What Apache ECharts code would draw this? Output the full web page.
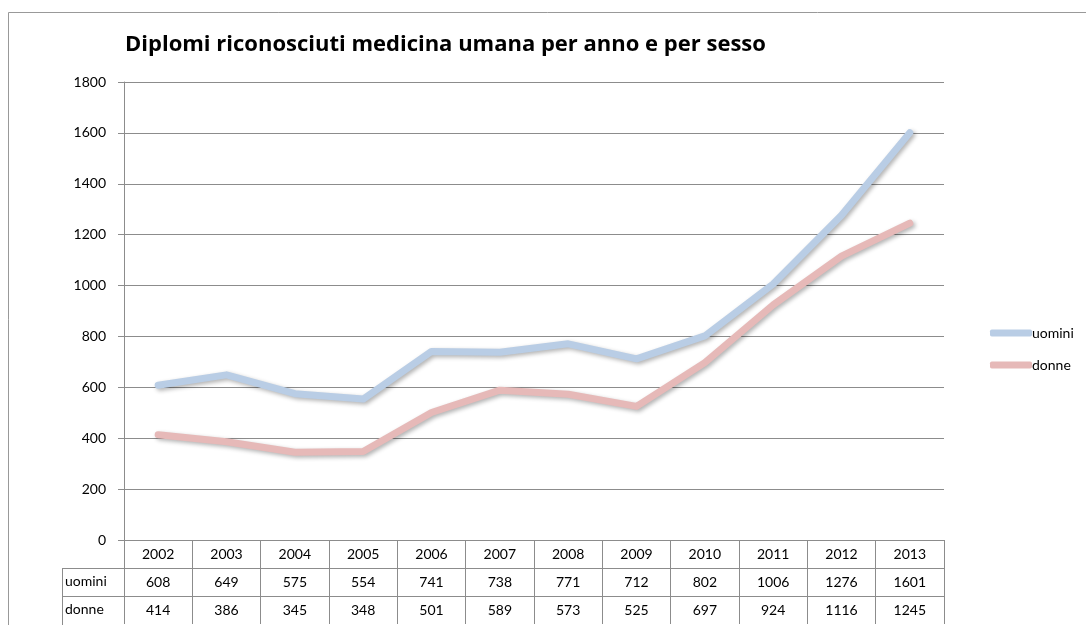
<!DOCTYPE html>
<html>
<head>
<meta charset="utf-8">
<script src="https://cdn.jsdelivr.net/npm/echarts@6/dist/echarts.min.js"></script>
<style>
  html, body { margin: 0; padding: 0; background: #fff; }
  #chart { width: 1086px; height: 625px; }
</style>
</head>
<body>
<div id="chart"></div>
<script>
// dati
var anni = ['2002', '2003', '2004', '2005', '2006', '2007', '2008', '2009', '2010', '2011', '2012', '2013'];
var uomini = [608, 649, 575, 554, 741, 738, 771, 712, 802, 1006, 1276, 1601];
var donne = [414, 386, 345, 348, 501, 589, 573, 525, 697, 924, 1116, 1245];
var nomiSerie = ['uomini', 'donne'];
var coloriSerie = ['#B9CDE5', '#E6B9B8'];

var font = 'Lato, "Open Sans", sans-serif';
var grigio = '#8c8c8c';
var rigaH = 28;

function tableAxis(data, offset) {
    return {
        type: 'category',
        gridIndex: 0,
        position: 'bottom',
        offset: offset,
        data: data,
        boundaryGap: true,
        axisLine: { show: true, lineStyle: { color: grigio, width: 1 } },
        axisTick: { show: true, interval: 0, length: rigaH, lineStyle: { color: grigio } },
        axisLabel: { interval: 0, margin: 7, fontSize: 14, color: '#000', fontFamily: font },
        splitLine: { show: false }
    };
}

function drawChart() {
    var dom = document.getElementById('chart');
    var myChart = echarts.init(dom, null, { renderer: 'canvas' });

    var option = {
        animation: false,
        backgroundColor: '#fff',
        title: {
            text: 'Diplomi riconosciuti medicina umana per anno e per sesso',
            left: 120,
            top: 29,
            textStyle: { fontSize: 22, fontWeight: 'bold', color: '#000', fontFamily: '"Open Sans", sans-serif' }
        },
        legend: {
            data: nomiSerie,
            orient: 'vertical',
            left: 985,
            top: 321,
            icon: 'roundRect',
            itemWidth: 42,
            itemHeight: 7,
            itemGap: 18,
            textStyle: { fontSize: 14, color: '#000', fontFamily: font, padding: [0, 0, 0, -5] }
        },
        grid: { left: 124, right: 142, top: 82, bottom: 85, containLabel: false },
        xAxis: [
            tableAxis(anni, 0),
            tableAxis(uomini.map(String), rigaH),
            tableAxis(donne.map(String), rigaH * 2)
        ],
        yAxis: {
            type: 'value',
            min: 0,
            max: 1800,
            interval: 200,
            axisLine: { show: true, lineStyle: { color: grigio } },
            axisTick: { show: true, length: 6, lineStyle: { color: grigio } },
            axisLabel: { margin: 18, fontSize: 14, color: '#000', fontFamily: font,
                formatter: function (v) { return String(v); } },
            splitLine: { show: true, lineStyle: { color: grigio, width: 1 } }
        },
        series: [uomini, donne].map(function (valori, i) {
            return {
                name: nomiSerie[i],
                type: 'line',
                xAxisIndex: 0,
                data: valori,
                showSymbol: false,
                symbol: 'none',
                color: coloriSerie[i],
                lineStyle: {
                    width: 7,
                    color: coloriSerie[i],
                    cap: 'round',
                    join: 'round',
                    shadowColor: 'rgba(0,0,0,0.3)',
                    shadowBlur: 4,
                    shadowOffsetX: 2,
                    shadowOffsetY: 2
                },
                z: 3 - i
            };
        }),
        graphic: [
            // cornice esterna
            { type: 'rect', silent: true, shape: { x: 8.5, y: 12.5, width: 1200, height: 800 },
              style: { fill: null, stroke: '#999', lineWidth: 1 } },
            // colonna etichette della tabella
            { type: 'line', silent: true, shape: { x1: 62.5, y1: 568, x2: 62.5, y2: 640 },
              style: { stroke: grigio, lineWidth: 1 } },
            { type: 'line', silent: true, shape: { x1: 62, y1: 568.5, x2: 124, y2: 568.5 },
              style: { stroke: grigio, lineWidth: 1 } },
            { type: 'line', silent: true, shape: { x1: 62, y1: 596.5, x2: 124, y2: 596.5 },
              style: { stroke: grigio, lineWidth: 1 } },
            { type: 'text', silent: true, left: 65, top: 574,
              style: { text: nomiSerie[0], fontSize: 14, fill: '#000', fontFamily: font } },
            { type: 'text', silent: true, left: 65, top: 602,
              style: { text: nomiSerie[1], fontSize: 14, fill: '#000', fontFamily: font } }
        ]
    };

    myChart.setOption(option);
    window.addEventListener('resize', myChart.resize);
}

drawChart();
</script>
</body>
</html>
